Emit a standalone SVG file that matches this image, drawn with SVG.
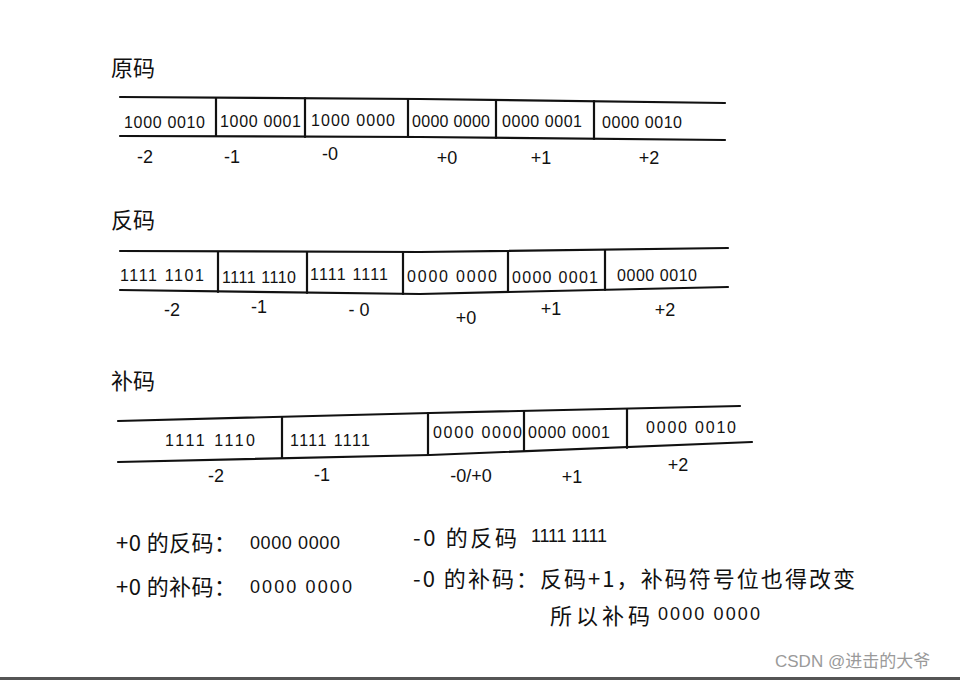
<svg xmlns="http://www.w3.org/2000/svg" width="960" height="680" viewBox="0 0 960 680">
<style>
.ln{stroke:#111;stroke-width:2.2;fill:none;stroke-linecap:round}
.t{font-family:"Liberation Sans","Noto Sans CJK SC",sans-serif;font-size:16px;fill:#111}
.lb{font-family:"Liberation Sans","Noto Sans CJK SC",sans-serif;font-size:18px;fill:#111;text-anchor:middle}
.h{font-family:"Noto Sans CJK SC","Liberation Sans",sans-serif;font-size:22px;fill:#111}
.n{font-family:"Noto Sans CJK SC","Liberation Sans",sans-serif;font-size:22px;fill:#111}
.wm{font-family:"Liberation Sans","Noto Sans CJK SC",sans-serif;font-size:17px;fill:#9a9a9a}
</style>
<rect width="960" height="680" fill="#ffffff"/>

<!-- Section 1: 原码 -->
<g id="sec-yuanma">
<text class="h" x="111" y="76">原码</text>
<path class="ln" d="M120 97 L420 99 L725 103"/>
<path class="ln" d="M120 136 L420 137 L725 140"/>
<g id="ym-m2"><text class="t" x="124" y="128" textLength="81">1000 0010</text><text class="lb" x="145" y="163">-2</text></g>
<path class="ln" d="M216 98 L216 136"/>
<g id="ym-m1"><text class="t" x="220" y="127" textLength="81">1000 0001</text><text class="lb" x="232" y="163">-1</text></g>
<path class="ln" d="M305 98 L305 137"/>
<g id="ym-m0"><text class="t" x="311" y="126" textLength="84">1000 0000</text><text class="lb" x="330" y="160">-0</text></g>
<path class="ln" d="M408 99 L408 137"/>
<g id="ym-p0"><text class="t" x="412" y="127" textLength="78">0000 0000</text><text class="lb" x="447" y="164">+0</text></g>
<path class="ln" d="M496 100 L496 138"/>
<g id="ym-p1"><text class="t" x="502" y="127" textLength="80">0000 0001</text><text class="lb" x="541" y="164">+1</text></g>
<path class="ln" d="M594 101 L594 139"/>
<g id="ym-p2"><text class="t" x="602" y="128" textLength="80">0000 0010</text><text class="lb" x="649" y="164">+2</text></g>
</g>

<!-- Section 2: 反码 -->
<g id="sec-fanma">
<text class="h" x="111" y="228">反码</text>
<path class="ln" d="M120 251 L420 252 L728 248"/>
<path class="ln" d="M120 290 L420 294 L728 287"/>
<g id="fm-m2"><text class="t" x="120" y="281" textLength="84">1111 1101</text><text class="lb" x="172" y="316">-2</text></g>
<path class="ln" d="M218 252 L218 292"/>
<g id="fm-m1"><text class="t" x="222" y="283" textLength="74">1111 1110</text><text class="lb" x="259" y="313">-1</text></g>
<path class="ln" d="M307 252 L307 293"/>
<g id="fm-m0"><text class="t" x="310" y="280" textLength="78">1111 1111</text><text class="lb" x="359" y="316">- 0</text></g>
<path class="ln" d="M403 253 L403 294"/>
<g id="fm-p0"><text class="t" x="407" y="282" textLength="90">0000 0000</text><text class="lb" x="466" y="324">+0</text></g>
<path class="ln" d="M508 251 L508 292"/>
<g id="fm-p1"><text class="t" x="512" y="283" textLength="86">0000 0001</text><text class="lb" x="551" y="315">+1</text></g>
<path class="ln" d="M605 250 L605 290"/>
<g id="fm-p2"><text class="t" x="617" y="281" textLength="80">0000 0010</text><text class="lb" x="665" y="316">+2</text></g>
</g>

<!-- Section 3: 补码 -->
<g id="sec-buma">
<text class="h" x="111" y="389">补码</text>
<path class="ln" d="M118 421 L430 413 L740 406"/>
<path class="ln" d="M118 462 L430 455 L752 442"/>
<g id="bm-m2"><text class="t" x="165" y="446" textLength="90">1111 1110</text><text class="lb" x="216" y="482">-2</text></g>
<path class="ln" d="M282 417 L282 458"/>
<g id="bm-m1"><text class="t" x="290" y="446" textLength="80">1111 1111</text><text class="lb" x="322" y="481">-1</text></g>
<path class="ln" d="M428 413 L428 454"/>
<g id="bm-0"><text class="t" x="433" y="438" textLength="89">0000 0000</text><text class="lb" x="471" y="482">-0/+0</text></g>
<path class="ln" d="M524 411 L524 451"/>
<g id="bm-p1"><text class="t" x="528" y="438" textLength="82">0000 0001</text><text class="lb" x="572" y="483">+1</text></g>
<path class="ln" d="M627 409 L627 448"/>
<g id="bm-p2"><text class="t" x="646" y="433" textLength="90">0000 0010</text><text class="lb" x="678" y="471">+2</text></g>
</g>

<!-- Notes -->
<g id="notes">
<text class="n" x="116" y="551" textLength="120">+0 的反码：</text>
<text class="t" x="250" y="549" style="font-size:18px" textLength="90">0000 0000</text>
<text class="n" x="116" y="595" textLength="120">+0 的补码：</text>
<text class="t" x="250" y="593" style="font-size:18px" textLength="102">0000 0000</text>
<text class="n" x="413" y="546" textLength="104">-0 的反码</text>
<text class="t" x="531" y="542" style="font-size:18px" textLength="76">1111 1111</text>
<text class="n" x="413" y="587" textLength="442">-0 的补码：反码+1，补码符号位也得改变</text>
<text class="n" x="550" y="624" textLength="100">所以补码</text>
<text class="t" x="658" y="620" style="font-size:18px" textLength="102">0000 0000</text>
</g>

<text class="wm" x="775" y="667">CSDN @进击的大爷</text>
<rect x="0" y="677" width="960" height="3" fill="#555"/>
</svg>
